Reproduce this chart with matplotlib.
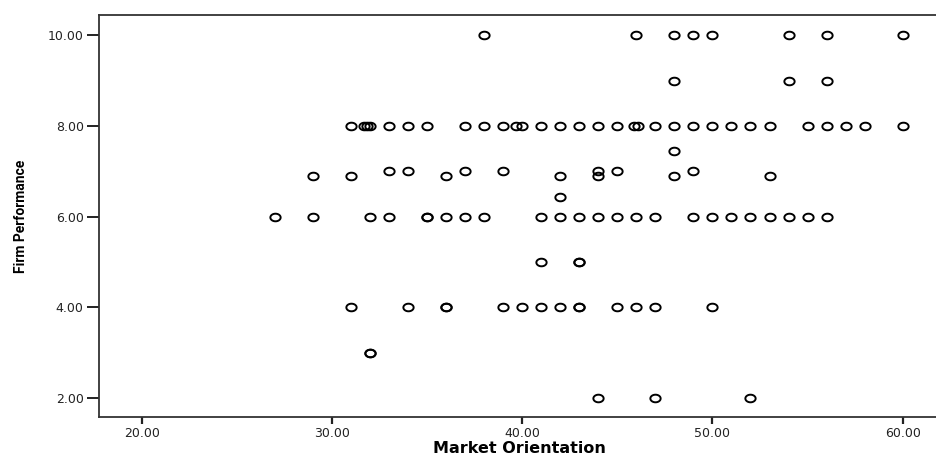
import numpy as np
import matplotlib.pyplot as plt
from matplotlib.path import Path

# Market Orientation scores observed at each Firm Performance level
mo_at_10 = [38, 46, 48, 49, 50, 54, 56, 60]
mo_at_9 = [48, 54, 56]
mo_at_8 = [31, 31.7, 31.85, 32, 33, 34, 35, 37, 38, 39, 39.7, 40, 41, 42, 43, 44, 45,
           45.9, 46.1, 47, 48, 49, 50, 51, 52, 53, 55, 56, 57, 58, 60]
mo_at_744 = [48]
mo_at_7 = [33, 34, 37, 39, 44, 45, 49]
mo_at_689 = [29, 31, 36, 42, 44, 48, 53]
mo_at_644 = [42]
mo_at_6 = [27, 29, 32, 33, 35, 35, 36, 37, 38, 41, 42, 43, 44, 45, 46, 47, 49, 50,
           51, 52, 53, 54, 55, 56]
mo_at_5 = [41, 43, 43]
mo_at_4 = [31, 34, 36, 36, 39, 40, 41, 42, 43, 43, 45, 46, 47, 50]
mo_at_3 = [32, 32]
mo_at_2 = [44, 47, 52]

fp_levels = [10.0, 9.0, 8.0, 7.44, 7.0, 6.89, 6.44, 6.0, 5.0, 4.0, 3.0, 2.0]
mo_groups = [mo_at_10, mo_at_9, mo_at_8, mo_at_744, mo_at_7, mo_at_689, mo_at_644,
             mo_at_6, mo_at_5, mo_at_4, mo_at_3, mo_at_2]

x_ticks = [20, 30, 40, 50, 60]
y_ticks = [2, 4, 6, 8, 10]

market_orientation = np.concatenate([np.array(g, dtype=float) for g in mo_groups])
firm_performance = np.concatenate([np.full(len(g), lv) for g, lv in zip(mo_groups, fp_levels)])

# slightly flattened open circle, like the SPSS marker
theta = np.linspace(0, 2 * np.pi, 40)
oval = Path(np.column_stack([1.35 * np.cos(theta), np.sin(theta)]), closed=True)

fig = plt.figure(figsize=(9.36, 4.57), dpi=100)
ax = fig.add_axes([99 / 936, 40 / 457, 841 / 936, 402 / 457])

ax.plot(market_orientation, firm_performance, linestyle='none', marker=oval,
        markersize=7.4, mfc='none', mec='black', mew=1.4)

ax.set_xlim(17.76, 61.96)
ax.set_ylim(1.58, 10.446)
ax.set_xticks(x_ticks)
ax.set_xticklabels([f'{v:.2f}' for v in x_ticks])
ax.set_yticks(y_ticks)
ax.set_yticklabels([f'{v:.2f}' for v in y_ticks])

for side in ['left', 'bottom', 'top']:
    ax.spines[side].set_color('#333333')
    ax.spines[side].set_linewidth(1.3)
ax.spines['right'].set_visible(False)

ax.tick_params(axis='x', length=5, width=1.6, pad=2, labelsize=9, colors='#222222')
ax.tick_params(axis='y', length=9, width=1.4, pad=2, labelsize=9, colors='#222222')

ax.set_xlabel('Market Orientation', fontsize=11.5, fontweight='bold', labelpad=1)
ax.set_ylabel('Firm Performance', fontsize=10, fontweight='bold', labelpad=14,
              family=['Roboto', 'DejaVu Sans'])

fig.savefig('out.png', dpi=100)
